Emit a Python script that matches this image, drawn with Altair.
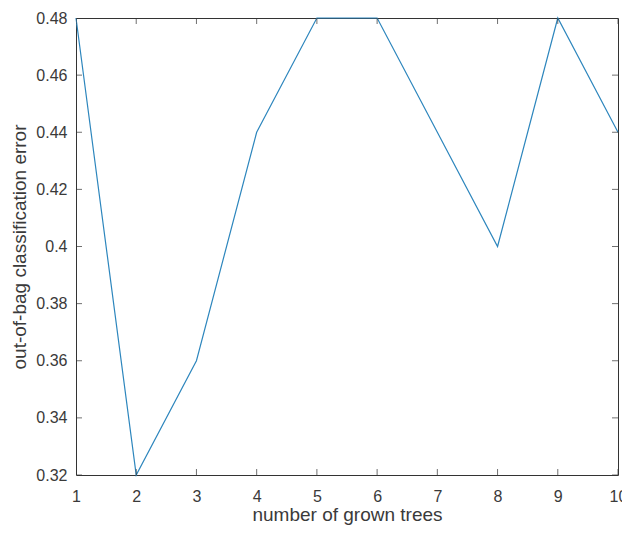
import altair as alt
import pandas as pd

trees = [1, 2, 3, 4, 5, 6, 7, 8, 9, 10]
errors = [0.48, 0.32, 0.36, 0.44, 0.48, 0.48, 0.44, 0.40, 0.48, 0.44]
x_ticks = [1, 2, 3, 4, 5, 6, 7, 8, 9, 10]
y_ticks = [0.32, 0.34, 0.36, 0.38, 0.40, 0.42, 0.44, 0.46, 0.48]

df = pd.DataFrame({"trees": trees, "error": errors})

# tick marks on the box (bottom/top for x, left/right for y), built from tick lists
xt_df = pd.DataFrame({
    "trees": x_ticks + x_ticks,
    "error": [y_ticks[0]] * len(x_ticks) + [y_ticks[-1]] * len(x_ticks),
})
yt_df = pd.DataFrame({
    "trees": [x_ticks[0]] * len(y_ticks) + [x_ticks[-1]] * len(y_ticks),
    "error": y_ticks + y_ticks,
})

FONT = "Liberation Sans"
AX = "#333333"
TXT = "#3a3a3a"
LINE = "#2d86bd"

xscale = alt.Scale(domain=[x_ticks[0], x_ticks[-1]], nice=False, zero=False)
yscale = alt.Scale(domain=[y_ticks[0], y_ticks[-1]], nice=False, zero=False)

x_axis = alt.Axis(values=x_ticks, ticks=False, domain=False, grid=False,
                  title="number of grown trees", labelFontSize=16,
                  titleFontSize=19, labelPadding=13, titlePadding=1,
                  labelColor=TXT, titleColor=TXT, titleFontWeight="normal",
                  labelFont=FONT, titleFont=FONT, labelFlush=False,
                  labelOverlap=False)
y_axis = alt.Axis(values=y_ticks, ticks=False, domain=False, grid=False,
                  title="out-of-bag classification error", format="~g",
                  labelFontSize=16, titleFontSize=19, labelPadding=9,
                  titlePadding=6, labelColor=TXT, titleColor=TXT,
                  titleFontWeight="normal", labelFont=FONT, titleFont=FONT,
                  labelFlush=False, labelOverlap=False)


def enc():
    return dict(
        x=alt.X("trees:Q", scale=xscale, axis=x_axis),
        y=alt.Y("error:Q", scale=yscale, axis=y_axis),
    )


main = alt.Chart(df).mark_line(color=LINE, strokeWidth=1.2).encode(**enc())

xticks_layer = alt.Chart(xt_df).mark_tick(
    orient="vertical", size=12, thickness=1, color=AX, clip=True
).encode(**enc())

yticks_layer = alt.Chart(yt_df).mark_tick(
    orient="horizontal", size=12, thickness=1, color=AX, clip=True
).encode(**enc())

chart = alt.layer(main, xticks_layer, yticks_layer).properties(
    width=542, height=457,
    autosize=alt.AutoSizeParams(type="none"),
    padding={"left": 68, "top": 10, "right": 4, "bottom": 53},
    background="white",
).configure_view(stroke=AX, strokeWidth=1)

chart.save("out.html", embed_options={"renderer": "svg", "actions": False})
